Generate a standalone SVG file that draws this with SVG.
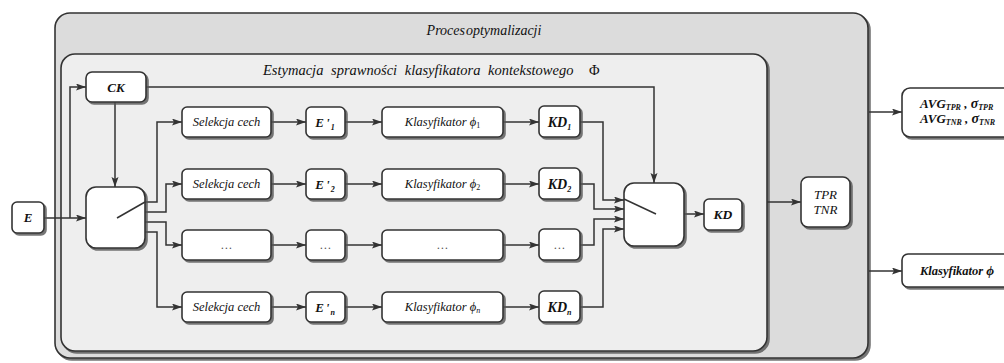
<svg xmlns="http://www.w3.org/2000/svg" width="1004" height="363" viewBox="0 0 1004 363">
  <defs>
    <filter id="shadow" x="-10%" y="-10%" width="130%" height="130%">
      <feDropShadow dx="2" dy="2" stdDeviation="0.6" flood-color="#555" flood-opacity="0.8"/>
    </filter>
    <marker id="arrow" markerWidth="11" markerHeight="8" refX="10" refY="3.5" orient="auto" markerUnits="userSpaceOnUse">
      <path d="M0,0 L10,3.5 L0,7 L2,3.5 z" fill="#333"/>
    </marker>
  </defs>
  <style>
    .frame { stroke: #333; stroke-width: 1.6; filter: url(#shadow); }
    .box { fill: #fff; stroke: #333; stroke-width: 1.6; filter: url(#shadow); }
    .wire { fill: none; stroke: #333; stroke-width: 1.5; }
    .arr { marker-end: url(#arrow); }
    .t { font-family: "Liberation Serif", "DejaVu Serif", serif; font-style: italic; fill: #111; }
    .c { text-anchor: middle; }
    .b { font-weight: bold; }
    .s { font-size: 12.5px; }
    .sub { font-size: 8px; }
    .dots { font-size: 12px; fill: #555; }
  </style>

  <!-- outer process frame -->
  <g id="proces">
    <rect class="frame" x="55" y="13" width="813" height="345" rx="15" fill="#dcdcdc"/>
    <text class="t c" x="484" y="35" font-size="14" word-spacing="-2.5">Proces optymalizacji</text>
  </g>

  <!-- inner estimation frame -->
  <g id="estymacja">
    <rect class="frame" x="61" y="54" width="706" height="297" rx="14" fill="#eeeeee"/>
    <text class="t" x="263" y="75" font-size="14.5" word-spacing="4">Estymacja sprawności klasyfikatora kontekstowego <tspan font-style="normal" dx="8">Φ</tspan></text>
  </g>

  <!-- connectors -->
  <g id="connectors">
    <path class="wire arr" d="M44,218 H86"/>
    <path class="wire arr" d="M70,218 V87 H86"/>
    <path class="wire arr" d="M115,102 V187"/>
    <path class="wire arr" d="M146,87 H654 V183"/>

    <path class="wire arr" d="M145,202 H157 V122 H182"/>
    <path class="wire arr" d="M145,212 H166 V184 H182"/>
    <path class="wire arr" d="M145,222 H166 V245 H182"/>
    <path class="wire arr" d="M145,232 H157 V307 H182"/>

    <path class="wire arr" d="M271,122 H306"/>
    <path class="wire arr" d="M345,122 H382"/>
    <path class="wire arr" d="M503,122 H539"/>
    <path class="wire arr" d="M271,184 H306"/>
    <path class="wire arr" d="M345,184 H382"/>
    <path class="wire arr" d="M503,184 H539"/>
    <path class="wire arr" d="M271,245 H306"/>
    <path class="wire arr" d="M345,245 H382"/>
    <path class="wire arr" d="M503,245 H539"/>
    <path class="wire arr" d="M271,307 H306"/>
    <path class="wire arr" d="M345,307 H382"/>
    <path class="wire arr" d="M503,307 H539"/>

    <path class="wire arr" d="M580,122 H603 V200 H624"/>
    <path class="wire arr" d="M580,184 H594 V209 H624"/>
    <path class="wire arr" d="M580,245 H594 V219 H624"/>
    <path class="wire arr" d="M580,307 H603 V229 H624"/>

    <path class="wire arr" d="M684,214 H704"/>
    <path class="wire arr" d="M767,202 H801"/>
    <path class="wire arr" d="M869,112 H902"/>
    <path class="wire arr" d="M869,271 H902"/>
  </g>

  <!-- input set -->
  <g id="E">
    <rect class="box" x="12" y="202" width="32" height="31" rx="5"/>
    <text class="t c b" x="28" y="222" font-size="13">E</text>
  </g>

  <g id="CK">
    <rect class="box" x="86" y="72" width="60" height="30" rx="6"/>
    <text class="t c b" x="116" y="92" font-size="13">CK</text>
  </g>

  <!-- input switch -->
  <g id="przelacznik-we">
    <rect class="box" x="86" y="187" width="59" height="61" rx="10"/>
    <path class="wire" d="M117,218 L145,202"/>
  </g>

  <!-- row 1 -->
  <g id="selekcja-1">
    <rect class="box" x="182" y="107" width="89" height="30" rx="5"/>
    <text class="t c s" x="226.5" y="126">Selekcja cech</text>
  </g>
  <g id="E-1">
    <rect class="box" x="306" y="107" width="39" height="30" rx="5"/>
    <text class="t c b" x="325" y="127" font-size="13">E<tspan dx="2">'</tspan><tspan class="sub" dy="3" dx="1">1</tspan></text>
  </g>
  <g id="klasyfikator-1">
    <rect class="box" x="382" y="107" width="121" height="30" rx="5"/>
    <text class="t c s" x="442.5" y="126">Klasyfikator ϕ<tspan class="sub" dy="2" font-style="normal">1</tspan></text>
  </g>
  <g id="KD-1">
    <rect class="box" x="539" y="106" width="41" height="31" rx="5"/>
    <text class="t c b" x="559.5" y="127" font-size="14">KD<tspan class="sub" dy="3">1</tspan></text>
  </g>

  <!-- row 2 -->
  <g id="selekcja-2">
    <rect class="box" x="182" y="169" width="89" height="30" rx="5"/>
    <text class="t c s" x="226.5" y="188">Selekcja cech</text>
  </g>
  <g id="E-2">
    <rect class="box" x="306" y="169" width="39" height="30" rx="5"/>
    <text class="t c b" x="325" y="189" font-size="13">E<tspan dx="2">'</tspan><tspan class="sub" dy="3" dx="1">2</tspan></text>
  </g>
  <g id="klasyfikator-2">
    <rect class="box" x="382" y="169" width="121" height="30" rx="5"/>
    <text class="t c s" x="442.5" y="188">Klasyfikator ϕ<tspan class="sub" dy="2" font-style="normal">2</tspan></text>
  </g>
  <g id="KD-2">
    <rect class="box" x="539" y="168" width="41" height="31" rx="5"/>
    <text class="t c b" x="559.5" y="189" font-size="14">KD<tspan class="sub" dy="3">2</tspan></text>
  </g>

  <!-- row 3 (ellipsis) -->
  <g id="selekcja-3">
    <rect class="box" x="182" y="230" width="89" height="30" rx="5"/>
    <text class="t c dots" x="226.5" y="249">…</text>
  </g>
  <g id="E-3">
    <rect class="box" x="306" y="230" width="39" height="30" rx="5"/>
    <text class="t c dots" x="325.5" y="249">…</text>
  </g>
  <g id="klasyfikator-3">
    <rect class="box" x="382" y="230" width="121" height="30" rx="5"/>
    <text class="t c dots" x="442.5" y="249">…</text>
  </g>
  <g id="KD-3">
    <rect class="box" x="539" y="229" width="41" height="31" rx="5"/>
    <text class="t c dots" x="559.5" y="249">…</text>
  </g>

  <!-- row n -->
  <g id="selekcja-n">
    <rect class="box" x="182" y="292" width="89" height="30" rx="5"/>
    <text class="t c s" x="226.5" y="311">Selekcja cech</text>
  </g>
  <g id="E-n">
    <rect class="box" x="306" y="292" width="39" height="30" rx="5"/>
    <text class="t c b" x="325" y="312" font-size="13">E<tspan dx="2">'</tspan><tspan class="sub" dy="3" dx="1">n</tspan></text>
  </g>
  <g id="klasyfikator-n">
    <rect class="box" x="382" y="292" width="121" height="30" rx="5"/>
    <text class="t c s" x="442.5" y="311">Klasyfikator ϕ<tspan class="sub" dy="2">n</tspan></text>
  </g>
  <g id="KD-n">
    <rect class="box" x="539" y="291" width="41" height="31" rx="5"/>
    <text class="t c b" x="559.5" y="312" font-size="14">KD<tspan class="sub" dy="3">n</tspan></text>
  </g>

  <!-- output switch -->
  <g id="przelacznik-wy">
    <rect class="box" x="624" y="183" width="60" height="63" rx="10"/>
    <path class="wire" d="M624,199 L656,214"/>
  </g>

  <g id="KD">
    <rect class="box" x="704" y="199" width="38" height="31" rx="5"/>
    <text class="t c b" x="723" y="219" font-size="13.5">KD</text>
  </g>

  <g id="TPR-TNR">
    <rect class="box" x="801" y="177" width="49" height="50" rx="7"/>
    <text class="t c" x="825.5" y="199" font-size="13">TPR</text>
    <text class="t c" x="825.5" y="214" font-size="13">TNR</text>
  </g>

  <!-- results -->
  <g id="statystyki">
    <rect class="box" x="902" y="88" width="112" height="49" rx="8"/>
    <text class="t b" x="920" y="108" font-size="13">AVG<tspan class="sub" dy="2">TPR</tspan><tspan dy="-2"> , </tspan><tspan font-size="14">σ</tspan><tspan class="sub" dy="2">TPR</tspan></text>
    <text class="t b" x="920" y="123" font-size="13">AVG<tspan class="sub" dy="2">TNR</tspan><tspan dy="-2"> , </tspan><tspan font-size="14">σ</tspan><tspan class="sub" dy="2">TNR</tspan></text>
  </g>

  <g id="klasyfikator-wynik">
    <rect class="box" x="902" y="254" width="112" height="33" rx="6"/>
    <text class="t b" x="920" y="275" font-size="12.5">Klasyfikator <tspan font-size="13.5">ϕ</tspan></text>
  </g>
</svg>
